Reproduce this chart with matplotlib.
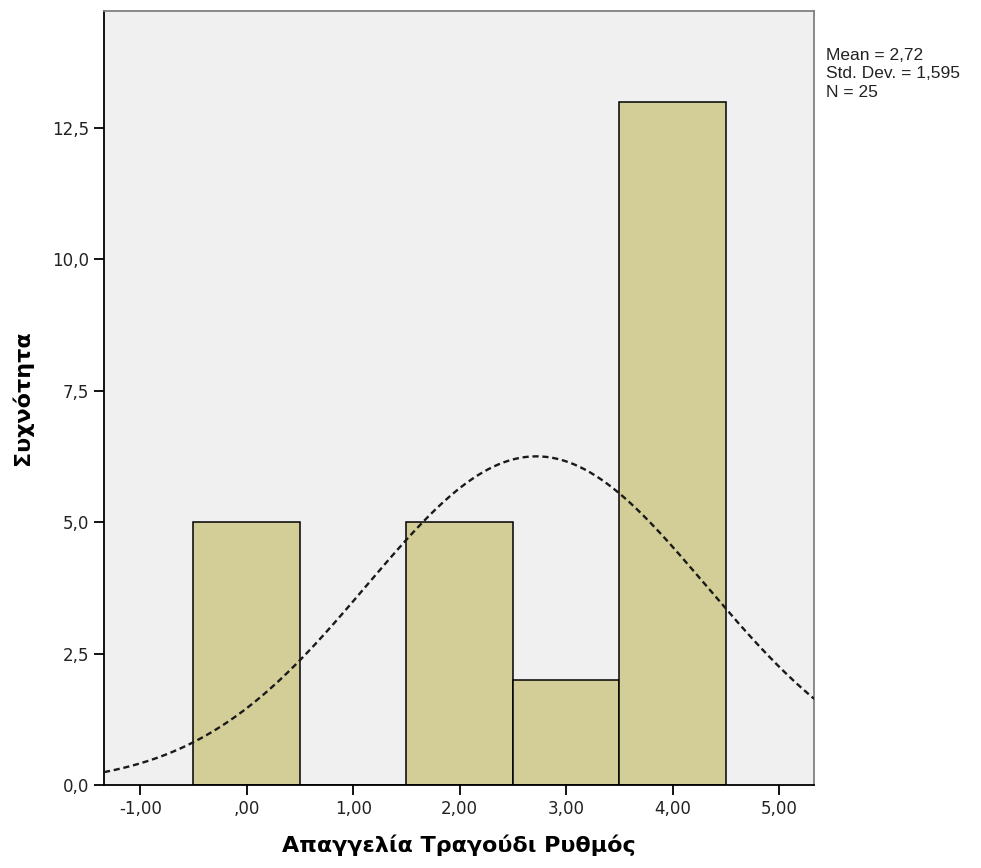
import numpy as np
import matplotlib
matplotlib.use('Agg')
from matplotlib import pyplot as plt
from matplotlib.ticker import FuncFormatter

# histogram bins (centre) and counts
bin_centres = [0, 1, 2, 3, 4]
counts = [5, 0, 5, 2, 13]
bin_width = 1.0

mean_val = 2.72
std_val = 1.595
n_val = 25

x_ticks = [-1, 0, 1, 2, 3, 4, 5]
y_ticks = [0, 2.5, 5, 7.5, 10, 12.5]

x_label = 'Απαγγελία Τραγούδι Ρυθμός'
y_label = 'Συχνότητα'

plt.rcParams['font.family'] = ['DejaVu Sans']

fig = plt.figure(figsize=(9.81, 8.68), dpi=100)
ax = fig.add_axes([0.106, 0.0956, 0.724, 0.8914])
ax.set_facecolor('#f0f0f0')

ax.bar(bin_centres, counts, width=bin_width, color='#d3ce97',
       edgecolor='black', linewidth=1.1, zorder=2)

# fitted normal curve
xs = np.linspace(-1.34, 5.33, 400)
ys = n_val * bin_width / (std_val * np.sqrt(2 * np.pi)) * np.exp(-0.5 * ((xs - mean_val) / std_val) ** 2)
ax.plot(xs, ys, color='#1a1a1a', linestyle=(0, (2.6, 1.6)), linewidth=1.7, zorder=3)

ax.set_xlim(-1.34, 5.33)
ax.set_ylim(0, 14.72)
ax.set_xticks(x_ticks)
ax.set_yticks(y_ticks)


def fmt_x(v, pos):
    s = '{:.2f}'.format(v).replace('.', ',')
    if s.startswith('0,'):
        s = s[1:]
    return s


def fmt_y(v, pos):
    return '{:.1f}'.format(v).replace('.', ',')


ax.xaxis.set_major_formatter(FuncFormatter(fmt_x))
ax.yaxis.set_major_formatter(FuncFormatter(fmt_y))
ax.tick_params(direction='out', length=7, width=1.3, labelsize=12,
               colors='black', labelcolor='#222222')

for side in ['left', 'bottom']:
    ax.spines[side].set_color('black')
    ax.spines[side].set_linewidth(1.3)
for side in ['top', 'right']:
    ax.spines[side].set_color('#808080')
    ax.spines[side].set_linewidth(1.3)

ax.set_xlabel(x_label, fontsize=16, fontweight='bold', labelpad=12)
ax.set_ylabel(y_label, fontsize=16, fontweight='bold', labelpad=14)

fig.text(0.842, 0.945,
         'Mean = {}\nStd. Dev. = {}\nN = {}'.format(
             str(mean_val).replace('.', ','), str(std_val).replace('.', ','), n_val),
         fontsize=12.5, family=['Liberation Sans', 'DejaVu Sans'],
         va='top', ha='left', linespacing=1.3, color='#222222')

fig.savefig('out.png', dpi=100)
